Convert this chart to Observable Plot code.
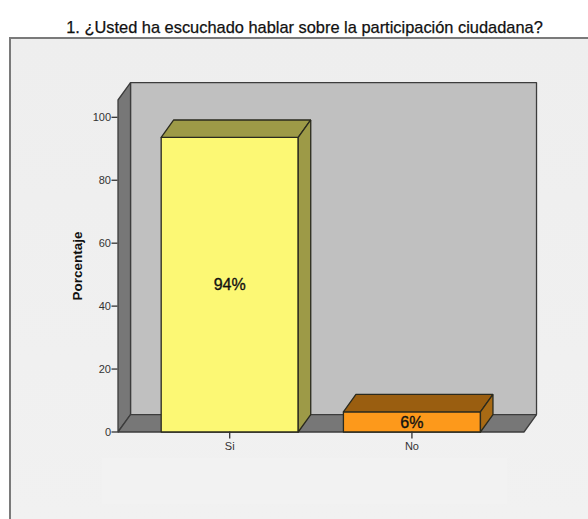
<!DOCTYPE html>
<html>
<head>
<meta charset="utf-8">
<script src="https://cdn.jsdelivr.net/npm/d3@7"></script>
<script src="https://cdn.jsdelivr.net/npm/@observablehq/plot@0.6"></script>
<style>
html,body{margin:0;padding:0;background:#fff;overflow:hidden}
#page{position:relative;width:588px;height:519px;font-family:"Liberation Sans",Arial,sans-serif}
#title{position:absolute;left:0;top:18px;width:609px;text-align:center;font-size:16.4px;line-height:18px;color:#111;white-space:nowrap;-webkit-text-stroke:0.25px #111}
#panel{position:absolute;left:9px;top:37px;width:579px;height:482px;background:linear-gradient(#eeeeee,#f1f1f1);border-top:2px solid #7a7a7a;border-left:2px solid #7a7a7a;box-sizing:border-box}
#legendArea{position:absolute;left:102px;top:458px;width:405px;height:46px;background:#f2f2f2}
#chart{position:absolute;left:0;top:38px}
#chart svg{background:transparent;overflow:visible;display:block}
</style>
</head>
<body>
<div id="page">
  <div id="title">1. ¿Usted ha escuchado hablar sobre la participación ciudadana?</div>
  <div id="panel"></div>
  <div id="legendArea"></div>
  <div id="chart"></div>
</div>
<script>
const categories = ["Si", "No"];
const values = [93.6, 6.4];
const barLabels = ["94%", "6%"];
const frontColors = ["#fcf874", "#fd991b"];
const topColors = ["#9d9a47", "#9a5e10"];
const sideColors = ["#9d9a47", "#a86a14"];
const yTicks = [0, 20, 40, 60, 80, 100];
const yLabel = "Porcentaje";

const barHalf = 0.376;     // half bar width, in category units
const depthX = 0.0687;     // depth offset, category units
const depthY = 5.55;       // depth offset, percent units
const xMin = -0.613, xMax = 1.615, yMax = 105.5;
const edge = "#2a2a1e";
const wallEdge = "#3c3c3c";

function poly(points, fill, stroke = edge, strokeWidth = 1.3) {
  const closed = [...points, points[0]].map(([x, y]) => ({x, y}));
  return Plot.line(closed, {x: "x", y: "y", fill, stroke, strokeWidth, strokeLinejoin: "miter", curve: "linear"});
}

function box(i) {
  const x0 = i - barHalf, x1 = i + barHalf, v = values[i];
  return [
    poly([[x0, 0], [x1, 0], [x1, v], [x0, v]], frontColors[i]),
    poly([[x0, v], [x1, v], [x1 + depthX, v + depthY], [x0 + depthX, v + depthY]], topColors[i]),
    poly([[x1, 0], [x1 + depthX, depthY], [x1 + depthX, v + depthY], [x1, v]], sideColors[i])
  ];
}

const chart = Plot.plot({
  width: 588,
  height: 481,
  marginLeft: 117.5,
  marginRight: 64.5,
  marginTop: 61.5,
  marginBottom: 87.5,
  style: {fontFamily: '"Liberation Sans", Arial, sans-serif', background: "transparent", overflow: "visible"},
  x: {type: "linear", domain: [xMin, xMax]},
  y: {type: "linear", domain: [0, yMax]},
  marks: [
    poly([[xMin + depthX, depthY], [xMax + depthX, depthY], [xMax + depthX, yMax + depthY], [xMin + depthX, yMax + depthY]], "#c0c0c0", wallEdge),
    poly([[xMin, 0], [xMin + depthX, depthY], [xMin + depthX, yMax + depthY], [xMin, yMax]], "#777777", wallEdge),
    poly([[xMin, 0], [xMax, 0], [xMax + depthX, depthY], [xMin + depthX, depthY]], "#777777", wallEdge),
    ...box(0),
    ...box(1),
    Plot.axisY({
      ticks: yTicks, anchor: "left", label: null,
      tickSize: 6, tickPadding: 1, fontSize: 11, color: "#333", strokeWidth: 1.3, stroke: "#333"
    }),
    Plot.axisX({
      ticks: [0, 1], tickFormat: i => categories[i], anchor: "bottom", label: null,
      tickSize: 7, tickPadding: 3, fontSize: 11, color: "#333", strokeWidth: 1.3, stroke: "#333"
    }),
    Plot.text([yLabel], {
      frameAnchor: "left", textAnchor: "middle", rotate: -90, dx: -40, dy: 0,
      fontSize: 13.5, fontWeight: "bold", fill: "#111", letterSpacing: "1.2px"
    }),
    Plot.text(categories.map((c, i) => ({i, v: values[i] / 2, t: barLabels[i]})), {
      x: "i", y: "v", text: "t", fontSize: 16, fontWeight: 400, fill: "#111", dy: 0.5,
      stroke: "#111", strokeWidth: 0.35, textAnchor: "middle"
    })
  ]
});
document.getElementById("chart").appendChild(chart);
</script>
</body>
</html>
